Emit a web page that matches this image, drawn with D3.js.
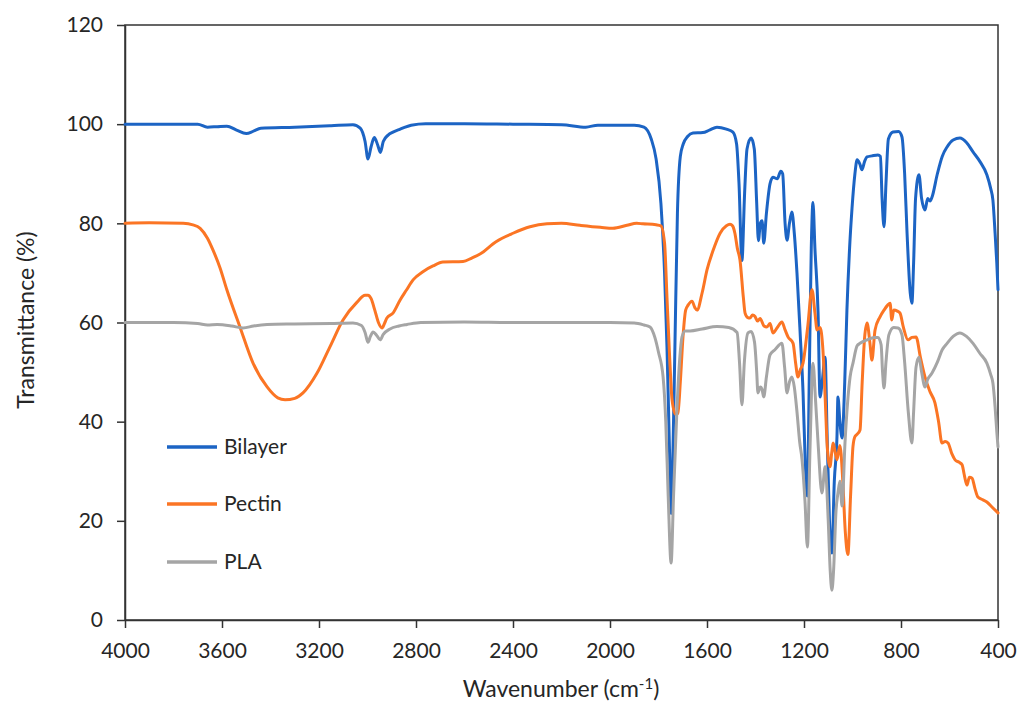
<!DOCTYPE html>
<html>
<head>
<meta charset="utf-8">
<script src="https://cdn.jsdelivr.net/npm/d3@7"></script>
<style>
  html, body { margin: 0; padding: 0; background: #fff; }
  svg { display: block; }
  text { font-family: Lato, "Open Sans", sans-serif; fill: #262626; }
</style>
</head>
<body>
<svg id="chart" width="1017" height="702"></svg>
<script>
// FTIR spectra: wavenumber (cm-1) and transmittance (%) for each film
const seriesNames = ["Bilayer", "Pectin", "PLA"];
const seriesColors = ["#1c64c4", "#fb7524", "#a5a5a5"];

const bilayerWn = [4000,3700,3660,3620,3580,3540,3500,3470,3440,3300,3150,3060,3030,3010,2998,2985,2972,2958,2947,2935,2915,2895,2870,2850,2820,2760,2600,2400,2200,2100,2050,1900,1860,1830,1810,1790,1775,1765,1755,1748,1740,1732,1722,1710,1698,1680,1658,1617,1590,1559,1520,1493,1478,1468,1456,1445,1435,1418,1405,1395,1388,1380,1373,1366,1355,1340,1328,1310,1296,1288,1278,1270,1260,1250,1240,1229,1215,1204,1195,1186,1178,1170,1163,1155,1142,1134,1125,1113,1105,1095,1085,1075,1064,1060,1052,1043,1032,1023,1012,1002,990,981,970,961,950,940,920,895,885,878,870,862,852,833,810,796,785,775,762,755,748,740,726,715,701,690,680,672,650,630,610,585,557,530,503,475,446,430,421,412,405,400];
const bilayerT = [100,100,99.4,99.5,99.6,98.8,98.1,98.6,99.2,99.4,99.7,99.9,99.2,96.5,93,95.5,97.3,95.8,94.3,96.5,97.8,98.4,98.9,99.3,99.8,100.1,100.1,100,99.9,99.4,99.8,99.8,99.4,97,93,84,70,55,35,21.5,35,56,82,93.5,96,97.5,98.2,98.3,98.8,99.4,99,98.4,96,88,72.5,86,95,97.2,95,84,76.5,80,80.5,76,82,88,89.3,89,90.5,90,80,76.6,80,82.3,78,70,57,46,32,25,50,75,84.2,75,62,45,48,53,38,20,13.5,28,37,45,40,36.7,48,62.5,75,83,90,92.8,92,90.8,92.5,93.4,93.6,93.8,93.5,85,79.3,88,97,98.4,98.5,97.4,90,78,66,63.9,72,85,89.8,85,82.7,85,84.5,85.3,90,93.5,95.4,96.8,97.2,96.3,94.4,92.5,89.8,87,84.7,78,72,66.6];

const pectinWn = [4000,3900,3760,3720,3690,3660,3637,3608,3580,3526,3472,3414,3370,3340,3300,3266,3208,3155,3101,3043,3010,2998,2985,2970,2955,2940,2930,2920,2895,2866,2840,2812,2770,2730,2689,2606,2570,2536,2470,2400,2330,2260,2200,2124,2040,1988,1930,1890,1864,1810,1790,1775,1765,1755,1744,1730,1720,1710,1699,1688,1678,1662,1650,1641,1620,1600,1575,1546,1520,1505,1495,1485,1475,1464,1450,1443,1432,1423,1412,1402,1392,1381,1365,1353,1340,1328,1310,1291,1278,1266,1245,1235,1225,1215,1204,1185,1167,1155,1146,1134,1122,1112,1105,1093,1085,1080,1072,1064,1052,1040,1030,1019,1008,998,990,980,969,960,950,940,928,920,907,887,870,855,845,838,830,815,804,790,771,755,738,720,701,680,660,645,631,618,606,590,577,560,548,540,528,518,507,495,483,465,446,425,400];
const pectinT = [80,80.1,80,79.7,79,77,74.6,71,66.6,59.1,51.8,47,44.8,44.4,44.7,45.8,49.8,55.1,60.5,64.1,65.5,65.5,64.8,62.5,60,58.9,59.8,60.9,61.9,64.5,66.5,68.6,70.3,71.4,72.2,72.3,73,73.8,76.3,78,79.3,79.9,80,79.6,79.2,79,79.6,80,79.9,79.7,79.5,76,65,54,44.4,41.5,41.7,48,57.1,62.5,63.5,64.3,63,62.5,66,70.6,74.5,78,79.5,79.8,79.5,78,75,72.6,65,61.9,61,60.9,61.5,61.2,60.3,60.8,59.3,59.1,59.8,57.9,59,60.1,58.5,57.1,55.8,52,49,50.5,51.8,59,66.6,62,58.5,59,54.5,44,35.7,30.9,34,35.7,34,32.3,35.2,28,18,13.2,25,35,37,37.5,38.3,48,57,59.9,55.8,52.4,58.5,61.1,62.5,63.5,63.9,60.5,62.5,62.3,61.9,59,56.5,57,57.1,53,49,46,43.8,40,35.7,36,35.7,33.5,32.3,31.8,31.3,29.5,27.2,28.8,28.6,26.5,24.8,24.3,23.8,22.8,21.6];

const plaWn = [4000,3800,3700,3660,3620,3560,3513,3470,3414,3300,3150,3060,3025,3010,2998,2988,2977,2962,2948,2935,2907,2870,2837,2780,2600,2400,2200,2000,1900,1860,1835,1815,1800,1781,1770,1760,1748,1738,1724,1712,1703,1690,1670,1620,1559,1510,1476,1466,1456,1446,1431,1418,1404,1395,1390,1380,1373,1366,1355,1340,1320,1291,1280,1270,1260,1250,1240,1229,1218,1208,1196,1186,1175,1163,1152,1142,1126,1113,1100,1092,1085,1078,1068,1060,1052,1043,1031,1020,1010,998,981,969,940,910,895,882,876,870,862,850,830,812,796,785,770,755,748,738,726,715,701,690,672,650,630,610,585,557,530,503,475,446,430,421,412,405,400];
const plaT = [60,60,59.8,59.5,59.6,59.3,58.9,59.3,59.6,59.7,59.8,59.9,59.4,58,56,57.2,58.1,57.4,56.5,57.6,58.7,59.3,59.6,60,60.1,60,60,60,59.9,59.5,59.1,57,54,49,40,25,11.5,25,42.4,53,57.1,58.3,58.3,58.7,59.2,59,58,52,43.4,52,57.9,58.2,56,50,45.8,47,46.5,45,49,53.5,54.5,55.8,51,45.8,48,49,47,42,36,32.3,24,14.7,35,51.8,44,35.7,25.6,30.9,20,10,6,10,22,25.6,28,23,35.7,44,49,51.8,55.3,55.8,56.5,57,57,55.5,50,46.8,52,57.5,59,58.9,57.5,52,42,35.7,42,51,53,50,47,48.5,49.8,52,54.5,55.8,57.2,57.9,57.2,55.8,53.8,51.8,49.5,47.8,43,38,34.9];

const xTicks = [4000,3600,3200,2800,2400,2000,1600,1200,800,400];
const yTicks = [0,20,40,60,80,100,120];

const svg = d3.select("#chart");
const x = d3.scaleLinear().domain([4000, 400]).range([125, 998]);
const y = d3.scaleLinear().domain([0, 120]).range([620, 25]);

const axisColor = "#333";
const fontStack = "Lato, 'Open Sans', sans-serif";

// Plot frame
svg.append("rect")
  .attr("x", x(4000)).attr("y", y(120))
  .attr("width", x(400) - x(4000)).attr("height", y(0) - y(120))
  .attr("fill", "none").attr("stroke", axisColor).attr("stroke-width", 1.5);

// Axes
const xAxis = svg.append("g")
  .attr("transform", `translate(0,${y(0)})`)
  .call(d3.axisBottom(x).tickValues(xTicks).tickFormat(d3.format("d"))
    .tickSize(8).tickSizeOuter(0).tickPadding(15));
const yAxis = svg.append("g")
  .attr("transform", `translate(${x(4000)},0)`)
  .call(d3.axisLeft(y).tickValues(yTicks).tickFormat(d3.format("d"))
    .tickSize(8).tickSizeOuter(0).tickPadding(14));

[xAxis, yAxis].forEach(g => {
  g.select(".domain").attr("stroke", axisColor).attr("stroke-width", 1.5);
  g.selectAll(".tick line").attr("stroke", axisColor).attr("stroke-width", 1.5);
  g.selectAll(".tick text").attr("font-size", 21).attr("fill", "#262626")
    .style("font-family", fontStack);
});

// Axis titles
const xTitle = svg.append("text")
  .attr("x", 561).attr("y", 697)
  .attr("text-anchor", "middle").attr("font-size", 23);
xTitle.append("tspan").text("Wavenumber (cm");
xTitle.append("tspan").attr("dy", -8).attr("font-size", 15).text("-1");
xTitle.append("tspan").attr("dy", 8).text(")");

svg.append("text")
  .attr("transform", "translate(34,320) rotate(-90)")
  .attr("text-anchor", "middle").attr("font-size", 23)
  .text("Transmittance (%)");

// Spectra
const seriesData = [
  d3.zip(bilayerWn, bilayerT),
  d3.zip(pectinWn, pectinT),
  d3.zip(plaWn, plaT)
];

const line = d3.line()
  .x(d => x(d[0]))
  .y(d => y(d[1]))
  .curve(d3.curveMonotoneX);

svg.append("g").selectAll("path")
  .data(seriesData)
  .join("path")
  .attr("d", line)
  .attr("fill", "none")
  .attr("stroke", (d, i) => seriesColors[i])
  .attr("stroke-width", 3)
  .attr("stroke-linejoin", "round")
  .attr("stroke-linecap", "round");

// Legend
const legendY = [447, 504, 562];
const legend = svg.append("g").selectAll("g")
  .data(seriesNames)
  .join("g")
  .attr("transform", (d, i) => `translate(167,${legendY[i]})`);
legend.append("line")
  .attr("x1", 0).attr("x2", 50).attr("y1", 0).attr("y2", 0)
  .attr("stroke", (d, i) => seriesColors[i]).attr("stroke-width", 3.5);
legend.append("text")
  .attr("x", 57).attr("y", 7)
  .attr("font-size", 21)
  .text(d => d);
</script>
</body>
</html>
